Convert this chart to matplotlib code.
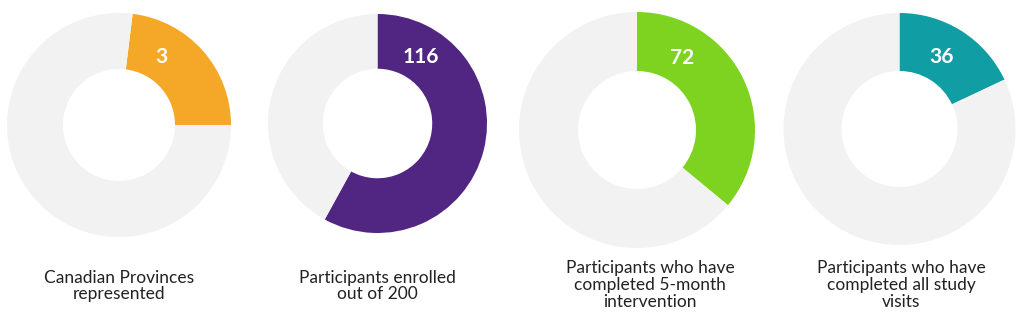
import matplotlib
matplotlib.use("Agg")
import matplotlib.pyplot as plt

# Data
values = [3, 116, 72, 36]
totals = [13, 200, 200, 200]
value_labels = ["3", "116", "72", "36"]
captions = [
    "Canadian Provinces\nrepresented",
    "Participants enrolled\nout of 200",
    "Participants who have\ncompleted 5-month\nintervention",
    "Participants who have\ncompleted all study\nvisits",
]
colors = ["#F5A827", "#512582", "#7ED321", "#109EA4"]
rest_color = "#F2F2F2"

# Layout (pixels)
W, H = 1024, 322
centers = [(119, 125), (377.5, 123.5), (637, 130), (899.5, 129)]
radii = [112, 109.5, 118, 116]
start_angles = [83, 90, 90, 90]
label_offsets = [(42, -68), (43.5, -66.5), (45, -72), (41.5, -72)]
caption_pos = [(119, 286), (377, 286), (650, 285), (901, 285)]

fig = plt.figure(figsize=(W / 100, H / 100), dpi=100)
fig.patch.set_facecolor("white")

for i in range(4):
    cx, cy = centers[i]
    r = radii[i]
    ax = fig.add_axes([(cx - r) / W, (H - cy - r) / H, 2 * r / W, 2 * r / H])
    ax.pie([values[i], totals[i] - values[i]], colors=[colors[i], rest_color],
           startangle=start_angles[i], counterclock=False, radius=1,
           wedgeprops=dict(width=0.5, linewidth=0))
    ax.set_xlim(-1, 1)
    ax.set_ylim(-1, 1)
    ax.set_aspect("equal")
    ax.axis("off")
    dx, dy = label_offsets[i]
    fig.text((cx + dx) / W, (H - cy - dy) / H, value_labels[i], color="white",
             fontsize=15, fontweight="bold", family="Lato", ha="center", va="center")
    px, py = caption_pos[i]
    fig.text(px / W, (H - py) / H, captions[i], color="#222222", fontsize=12.5,
             family="Lato", ha="center", va="center", linespacing=1.05)

fig.savefig("out.png", dpi=100, facecolor="white")
